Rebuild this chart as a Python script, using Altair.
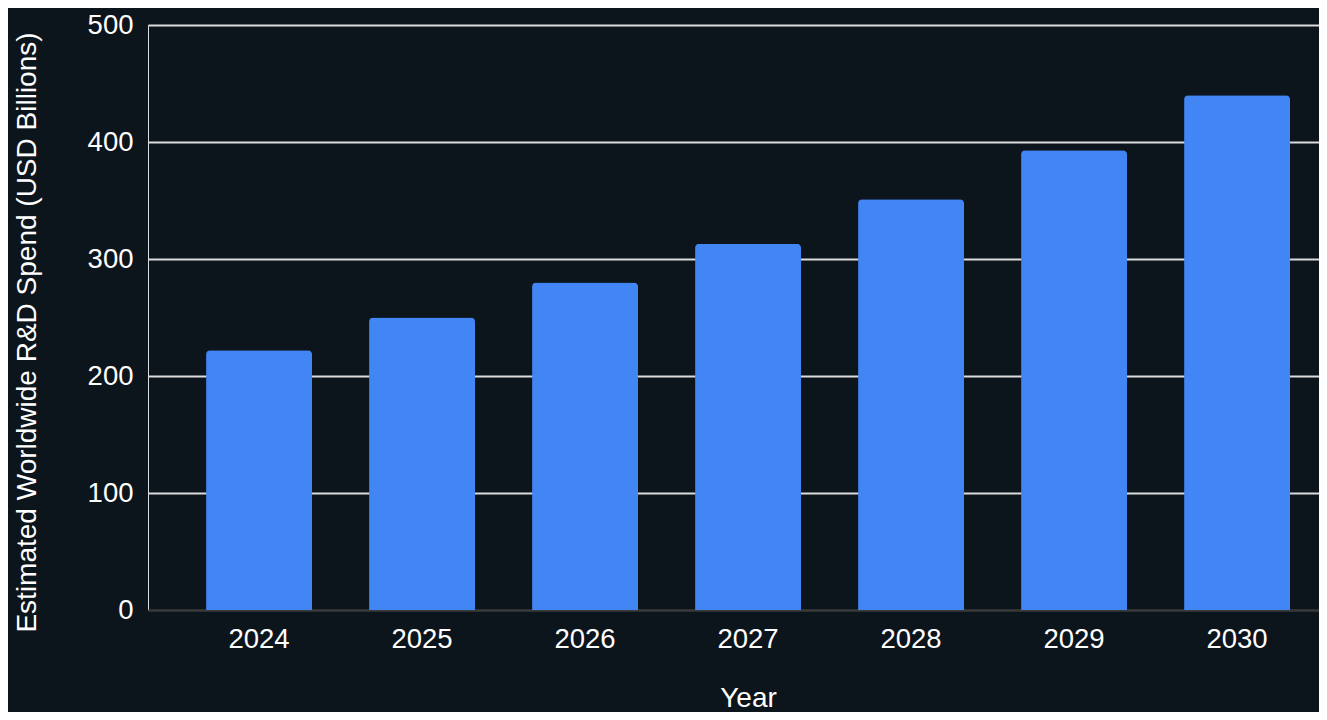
import altair as alt
import pandas as pd

years = ["2024", "2025", "2026", "2027", "2028", "2029", "2030"]
spend = [222, 250, 280, 313, 351, 393, 440]
y_ticks = [0, 100, 200, 300, 400, 500]

df = pd.DataFrame({"Year": years, "Spend": spend})

FONT = "Liberation Sans"

chart = (
    alt.Chart(df)
    .mark_bar(color="#4285F4", cornerRadiusTopLeft=4, cornerRadiusTopRight=4)
    .encode(
        x=alt.X(
            "Year:N",
            sort=years,
            scale=alt.Scale(paddingInner=0.35, paddingOuter=0.267, align=0.667),
            axis=alt.Axis(
                title="Year",
                labelAngle=0,
                labelFontSize=27.5,
                labelPadding=15,
                labelColor="#ffffff",
                ticks=False,
                domain=True,
                domainColor="#3a3a3a",
                domainWidth=2,
                grid=False,
                titleFontSize=28,
                titleFontWeight="normal",
                titleColor="#ffffff",
                titleX=600,
                titleY=96,
                titleBaseline="alphabetic",
                titleAlign="center",
            ),
        ),
        y=alt.Y(
            "Spend:Q",
            scale=alt.Scale(domain=[0, 500], nice=False),
            axis=alt.Axis(
                title="Estimated Worldwide R&D Spend (USD Billions)",
                values=y_ticks,
                labelFontSize=27.5,
                labelPadding=15,
                labelColor="#ffffff",
                ticks=False,
                domain=False,
                grid=True,
                gridColor={"condition": {"test": "datum.value === 0", "value": "#3a3a3a"}, "value": "#dcdcdc"},
                gridWidth=2,
                titleFontSize=28,
                titleFontWeight="normal",
                titleColor="#ffffff",
                titleAngle=270,
                titleX=-113,
                titleY=307,
                titleAlign="center",
                titleBaseline="alphabetic",
            ),
        ),
    )
    .properties(
        width=1171,
        height=585,
        background="#0c141c",
        padding={"left": 140, "top": 17, "right": 0, "bottom": 102},
        autosize=alt.AutoSizeParams(type="none"),
    )
    .configure_view(strokeWidth=0)
    .configure(font=FONT)
)

chart.save("out.html", embed_options={"renderer": "svg", "actions": False})
